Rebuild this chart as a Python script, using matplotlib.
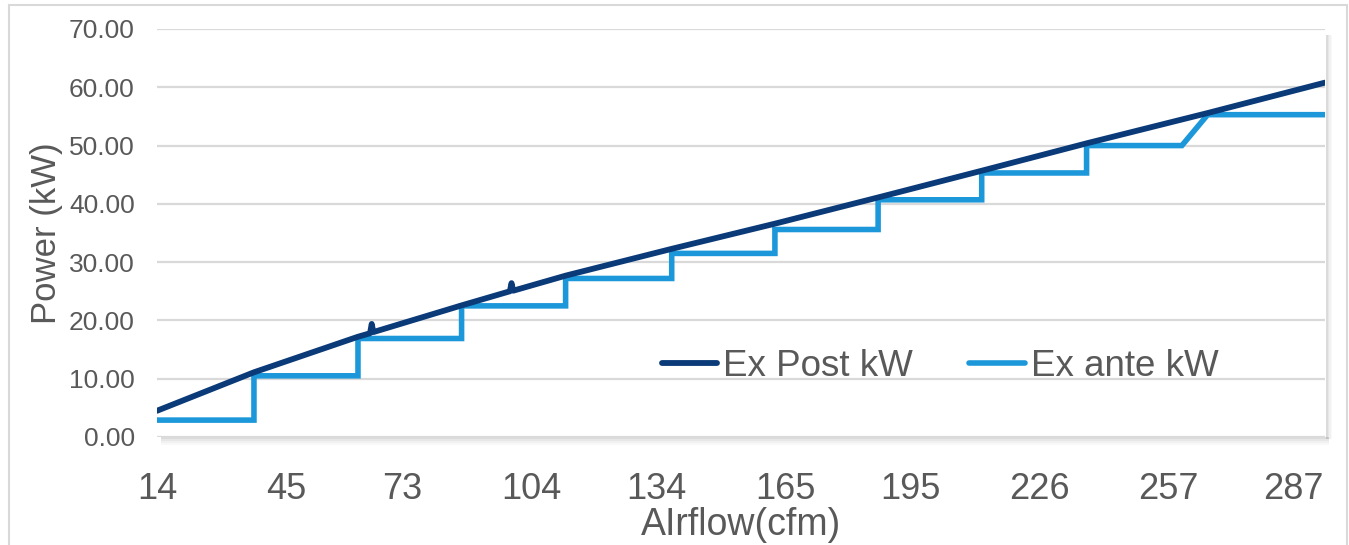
import matplotlib
matplotlib.use('Agg')
import matplotlib.pyplot as plt
from matplotlib.patches import Rectangle
from matplotlib.ticker import FormatStrFormatter

post_airflow = [14, 37.3, 62.3, 65.2, 65.6, 66.0, 87.3, 98.8, 99.2, 99.6,
                112.3, 137.8, 162.5, 187.3, 212.3, 237.5, 266.6, 294.7]
post_kw = [4.5, 11.1, 17.2, 17.8, 19.4, 18.0, 22.6, 25.0, 26.4, 25.1,
           27.7, 32.3, 36.6, 41.1, 45.7, 50.4, 55.6, 60.8]

# Ex ante: stepped estimate, levels and where each rise starts / ends
ante_levels = [2.9, 10.5, 16.9, 22.5, 27.2, 31.5, 35.6, 40.7, 45.3, 50.0, 55.3]
rise_start = [37.3, 62.3, 87.2, 112.2, 137.7, 162.5, 187.3, 212.2, 237.4, 260.3]
rise_end = [37.3, 62.3, 87.2, 112.2, 137.7, 162.5, 187.3, 212.2, 237.4, 266.5]
airflow_min = 14
airflow_max = 294.7

x_ticks = [14, 45, 73, 104, 134, 165, 195, 226, 257, 287]
y_ticks = [0, 10, 20, 30, 40, 50, 60, 70]

DARK = '#0B3A78'
LIGHT = '#1B97DA'
GREY_TXT = '#595959'
GRID = '#D9D9D9'

plt.rcParams['font.family'] = ['Liberation Sans', 'DejaVu Sans']

W, H = 1349, 545
fig = plt.figure(figsize=(W / 100, H / 100), dpi=100)

# plot area in pixels
left, right, top, bottom = 157, 1325, 29, 437
ax = fig.add_axes([left / W, 1 - bottom / H, (right - left) / W, (bottom - top) / H])

# build the step path of the ex ante series
ante_x = [airflow_min]
ante_y = [ante_levels[0]]
for i in range(len(rise_start)):
    ante_x += [rise_start[i], rise_end[i]]
    ante_y += [ante_levels[i], ante_levels[i + 1]]
ante_x.append(airflow_max)
ante_y.append(ante_levels[-1])

ax.plot(post_airflow, post_kw, color=DARK, lw=4.2, solid_capstyle='round',
        solid_joinstyle='round', label='Ex Post kW', zorder=3)
ax.plot(ante_x, ante_y, color=LIGHT, lw=4.0, solid_capstyle='round',
        solid_joinstyle='miter', label='Ex ante kW', zorder=2)

ax.set_xlim(airflow_min, airflow_max)
ax.set_ylim(0, 70)
ax.set_xticks(x_ticks)
ax.set_yticks(y_ticks)
ax.yaxis.set_major_formatter(FormatStrFormatter('%.2f'))
ax.grid(axis='y', color=GRID, lw=1.6)
ax.set_axisbelow(True)
for s in ax.spines.values():
    s.set_visible(False)
ax.tick_params(axis='y', length=0, pad=16, labelsize=19, labelcolor=GREY_TXT)
ax.tick_params(axis='x', length=0, pad=25, labelsize=26, labelcolor=GREY_TXT)

ax.set_xlabel('AIrflow(cfm)', fontsize=27, color=GREY_TXT, labelpad=0)
ax.set_ylabel('Power (kW)', fontsize=25, color=GREY_TXT, labelpad=4)

leg = ax.legend(loc='center left', bbox_to_anchor=(0.432, 0.172), ncol=2,
                frameon=False, fontsize=26.5, handlelength=1.5, handletextpad=0.16,
                columnspacing=1.55, borderpad=0, borderaxespad=0)
for t in leg.get_texts():
    t.set_color(GREY_TXT)

# drop shadow of the plot area (bottom and right)
for k, a in enumerate([0.28, 0.18, 0.10, 0.05]):
    fig.patches.append(Rectangle(((left + 4) / W, 1 - (bottom + 2 + 2 * k) / H),
                                 (right - left) / W, 2 / H, transform=fig.transFigure,
                                 facecolor='#7F7F7F', edgecolor='none', alpha=a))
    fig.patches.append(Rectangle(((right + 1 + 1.5 * k) / W, 1 - (bottom + 2) / H),
                                 1.5 / W, (bottom - top - 4) / H, transform=fig.transFigure,
                                 facecolor='#7F7F7F', edgecolor='none', alpha=a))

# outer chart border
fig.patches.append(Rectangle((9 / W, -0.05), (1347 - 9) / W, 1.05 - 5 / H,
                             transform=fig.transFigure, facecolor='none',
                             edgecolor=GRID, lw=1.5))

fig.savefig('out.png', dpi=100)
